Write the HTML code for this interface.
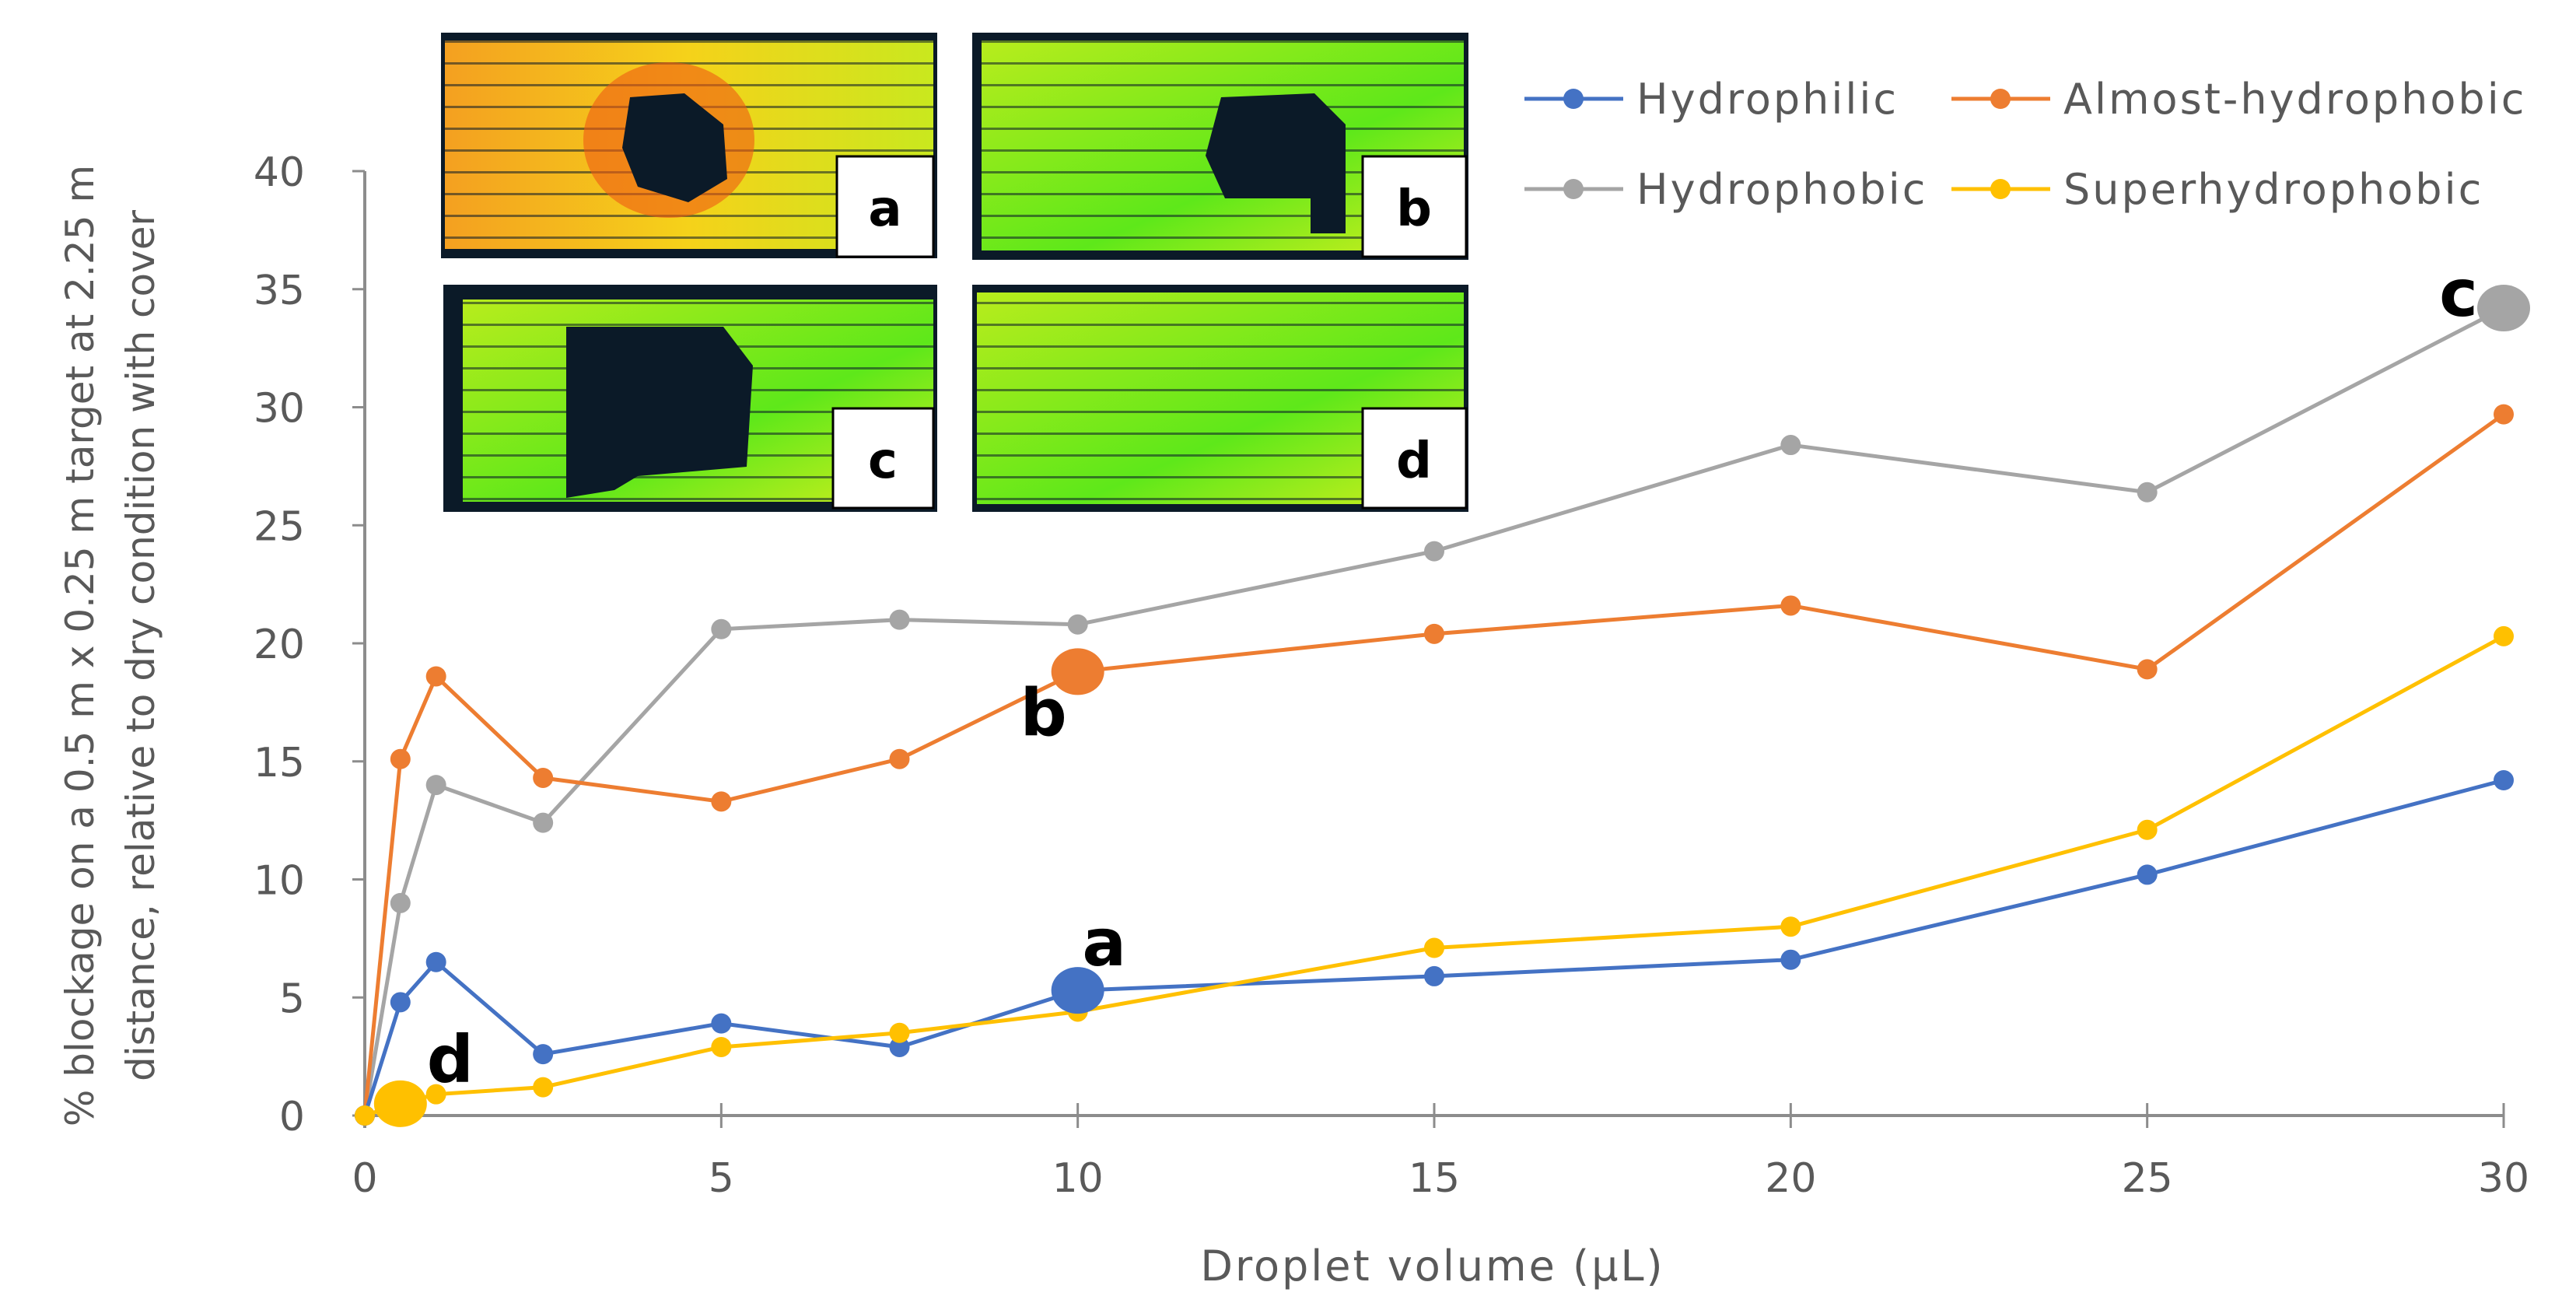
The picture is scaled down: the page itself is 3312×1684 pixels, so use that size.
<!DOCTYPE html>
<html><head><meta charset="utf-8"><style>
html,body{margin:0;padding:0;background:#fff}
svg{display:block}
text{font-family:"DejaVu Sans","Liberation Sans",sans-serif}
</style></head><body>
<svg id="chart" width="3312" height="1684" viewBox="0 0 3312 1684" xmlns="http://www.w3.org/2000/svg">
<defs>
<linearGradient id="gA" x1="0" y1="0" x2="1" y2="0"><stop offset="0" stop-color="#f4a020"/><stop offset="0.5" stop-color="#f5d21a"/><stop offset="1" stop-color="#c9e81e"/></linearGradient>
<linearGradient id="gG" x1="0" y1="0" x2="1" y2="1"><stop offset="0" stop-color="#b8ec1c"/><stop offset="0.6" stop-color="#5ee81a"/><stop offset="1" stop-color="#d4ee1e"/></linearGradient>
<pattern id="stripes" width="40" height="28" patternUnits="userSpaceOnUse"><rect y="24" width="40" height="3" fill="#0b1a28" opacity="0.55"/></pattern>
</defs>
<g id="panels">
<g>
<rect x="567" y="42" width="638" height="290" fill="#0b1a28"/>
<rect x="572" y="52" width="628" height="268" fill="url(#gA)"/>
<rect x="572" y="52" width="628" height="268" fill="url(#stripes)"/>
<ellipse cx="860" cy="180" rx="110" ry="100" fill="#ee5a14" opacity="0.6"/>
<path d="M810 125 L880 120 L930 160 L935 230 L885 260 L820 240 L800 190Z" fill="#0b1a28"/>
<rect x="1076" y="201" width="124" height="129" fill="#fff" stroke="#000" stroke-width="3"/>
<text x="1138" y="290" font-size="64" font-weight="bold" text-anchor="middle">a</text>
</g>
<g>
<rect x="1250" y="42" width="638" height="292" fill="#0b1a28"/>
<rect x="1262" y="52" width="620" height="270" fill="url(#gG)"/>
<rect x="1262" y="52" width="620" height="270" fill="url(#stripes)"/>
<path d="M1570 125 L1690 120 L1730 160 L1730 300 L1685 300 L1685 255 L1575 255 L1550 200Z" fill="#0b1a28"/>
<rect x="1752" y="201" width="133" height="129" fill="#fff" stroke="#000" stroke-width="3"/>
<text x="1818" y="290" font-size="64" font-weight="bold" text-anchor="middle">b</text>
</g>
<g>
<rect x="570" y="366" width="635" height="292" fill="#0b1a28"/>
<rect x="595" y="385" width="605" height="260" fill="url(#gG)"/>
<rect x="595" y="385" width="605" height="260" fill="url(#stripes)"/>
<path d="M728 420 L930 420 L968 470 L960 600 L820 612 L790 630 L728 640Z" fill="#0b1a28"/>
<rect x="1071" y="525" width="129" height="128" fill="#fff" stroke="#000" stroke-width="3"/>
<text x="1135" y="614" font-size="64" font-weight="bold" text-anchor="middle">c</text>
</g>
<g>
<rect x="1250" y="366" width="638" height="292" fill="#0b1a28"/>
<rect x="1256" y="376" width="626" height="272" fill="url(#gG)"/>
<rect x="1256" y="376" width="626" height="272" fill="url(#stripes)"/>
<rect x="1752" y="525" width="133" height="128" fill="#fff" stroke="#000" stroke-width="3"/>
<text x="1818" y="614" font-size="64" font-weight="bold" text-anchor="middle">d</text>
</g>
</g>
<g id="axes"></g>
<g id="series"></g>
<g id="legend"></g>
</svg>
<script>
const xValues=[0,0.5,1,2.5,5,7.5,10,15,20,25,30];
const hydrophilic=[0,4.8,6.5,2.6,3.9,2.9,5.3,5.9,6.6,10.2,14.2];
const almostHydrophobic=[0,15.1,18.6,14.3,13.3,15.1,18.8,20.4,21.6,18.9,29.7];
const hydrophobic=[0,9.0,14.0,12.4,20.6,21.0,20.8,23.9,28.4,26.4,34.2];
const superhydrophobic=[0,0.5,0.9,1.2,2.9,3.5,4.4,7.1,8.0,12.1,20.3];
const xTicks=[0,5,10,15,20,25,30];
const yTicks=[0,5,10,15,20,25,30,35,40];
const seriesNames=['Hydrophilic','Almost-hydrophobic','Hydrophobic','Superhydrophobic'];
const seriesColors=['#4472c4','#ed7d31','#a5a5a5','#ffc000'];
const highlights=[{s:0,i:6,label:'a',dx:34,dy:-62},{s:1,i:6,label:'b',dx:-44,dy:52},{s:2,i:10,label:'c',dx:-58,dy:-20},{s:3,i:1,label:'d',dx:64,dy:-58}];

const NS='http://www.w3.org/2000/svg';
const X=v=>469+v*(3219-469)/30;
const Y=v=>1434-v*(1434-220)/40;
function mk(tag,attrs,parent){const e=document.createElementNS(NS,tag);for(const k in attrs)e.setAttribute(k,attrs[k]);parent.appendChild(e);return e;}
const axes=document.getElementById('axes');
const ax=mk('line',{x1:X(0),y1:Y(0),x2:X(30),y2:Y(0),stroke:'#8c8c8c','stroke-width':4},axes);


const ay=mk('line',{x1:X(0),y1:Y(40),x2:X(0),y2:Y(0)+16,stroke:'#8c8c8c','stroke-width':4},axes);


xTicks.forEach(t=>{
  const tk=mk('line',{x1:X(t),y1:Y(0)-16,x2:X(t),y2:Y(0)+16,stroke:'#8c8c8c','stroke-width':3},axes);
  
  
  const tl=mk('text',{x:X(t),y:Y(0)+98,'font-size':52,fill:'#595959','text-anchor':'middle'},axes);
  tl.textContent=t;
  
  
});
yTicks.forEach(t=>{
  const tk=mk('line',{x1:X(0)-16,y1:Y(t),x2:X(0),y2:Y(t),stroke:'#8c8c8c','stroke-width':3},axes);
  
  
  const tl=mk('text',{x:392,y:Y(t)+19,'font-size':52,fill:'#595959','text-anchor':'end'},axes);
  tl.textContent=t;
  
  
});
const xt=mk('text',{x:1842,y:1646,'font-size':54,'letter-spacing':3,fill:'#595959','text-anchor':'middle'},axes);
xt.textContent='Droplet volume (µL)';


const yt=mk('text',{transform:'translate(120,830) rotate(-90)','font-size':50,fill:'#595959','text-anchor':'middle'},axes);


const t1=mk('tspan',{x:0,y:0},yt);t1.textContent='% blockage on a 0.5 m x 0.25 m target at 2.25 m';
const t2=mk('tspan',{x:0,y:78},yt);t2.textContent='distance, relative to dry condition with cover';

const seriesG=document.getElementById('series');
const data=[hydrophilic,almostHydrophobic,hydrophobic,superhydrophobic];
const drawOrder=[2,1,0,3];
drawOrder.forEach(s=>{
  const g=mk('g',{},seriesG);
  
  
  const pts=xValues.map((x,i)=>X(x)+','+Y(data[s][i])).join(' ');
  const pl=mk('polyline',{points:pts,fill:'none',stroke:seriesColors[s],'stroke-width':5,'stroke-linejoin':'round'},g);
  
  
  xValues.forEach((x,i)=>{
    const c=mk('circle',{cx:X(x),cy:Y(data[s][i]),r:13,fill:seriesColors[s]},g);
    
    
  });
});
highlights.forEach(h=>{
  const cx=X(xValues[h.i]),cy=Y(data[h.s][h.i]);
  const c=mk('ellipse',{cx:cx,cy:cy,rx:34,ry:30,fill:seriesColors[h.s]},seriesG);
  
  
  const t=mk('text',{x:cx+h.dx,y:cy+h.dy+30,'font-size':84,'font-weight':'bold',fill:'#000','text-anchor':'middle'},seriesG);
  t.textContent=h.label;
  
  
});
const lg=document.getElementById('legend');
const legPos=[[1960,127],[2509,127],[1960,243],[2509,243]];
seriesNames.forEach((n,s)=>{
  const g=mk('g',{},lg);
  
  
  const [lx,ly]=legPos[s];
  mk('line',{x1:lx,y1:ly,x2:lx+127,y2:ly,stroke:seriesColors[s],'stroke-width':5},g);
  mk('circle',{cx:lx+63,cy:ly,r:13,fill:seriesColors[s]},g);
  const t=mk('text',{x:lx+144,y:ly+19,'font-size':54,'letter-spacing':3,fill:'#595959'},g);
  t.textContent=n;
});
</script>
</body></html>
